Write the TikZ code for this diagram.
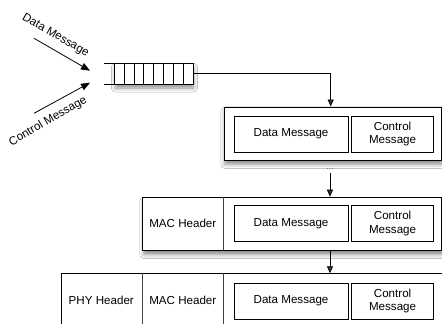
\documentclass[tikz,border=0pt]{standalone}
\usepackage{fontspec}
\setmainfont{Liberation Sans}
\usetikzlibrary{arrows.meta,shadows.blur}
\tikzset{
  lbl/.style={font=\fontsize{11.6}{13.5}\selectfont, align=center, inner sep=0pt},
  shad/.style={blur shadow={shadow xshift=1pt, shadow yshift=-4pt, shadow blur radius=4pt, shadow opacity=45}},
  outerbox/.style={draw=black, line width=0.9pt, fill=white, shad, anchor=north west, inner sep=0pt},
  plainbox/.style={draw=black, line width=0.9pt, fill=white, anchor=north west, inner sep=0pt},
  msgbox/.style={draw=black, line width=0.9pt, anchor=north west, inner sep=0pt, minimum height=36pt, lbl},
  divider/.style={draw=black!75, line width=0.9pt},
  arr/.style={-{Triangle[length=7pt,width=6pt]}, line width=0.8pt},
  inarr/.style={-{Triangle[length=9pt,width=7pt]}, line width=0.8pt},
  qline/.style={draw=black, line width=0.8pt}
}
\begin{document}
\begin{tikzpicture}[x=1pt,y=-1pt]
\useasboundingbox (0,0) rectangle (442,324);
\clip (0,0) rectangle (442,324);
\fill[white] (0,0) rectangle (442,324);

% incoming messages
\coordinate (ds) at (34,38.3);
\coordinate (de) at (90,70.7);
\coordinate (cs) at (34,113.3);
\coordinate (ce) at (90,82.7);
\draw[inarr] (ds) -- (de);
\draw[inarr] (cs) -- (ce);
\node[lbl, rotate=-30] (ldata) at (55.5,35.5) {Data Message};
\node[lbl, rotate=30] (lctrl) at (48,121.5) {Control Message};

% queue
\node[anchor=north west, inner sep=0pt, minimum width=88.7pt, minimum height=20.7pt] (queue) at (104,63.3) {};
\path[fill=white, shad] (114.3,63.3) rectangle (192.7,84);
\draw[qline] (queue.north west) -- (queue.north east) -- (queue.south east) -- (queue.south west);
\foreach \i in {0,...,7} {
  \draw[qline] (114.3+\i*9.8,63.3) -- (114.3+\i*9.8,84);
}

% box 1
\node[outerbox, minimum width=217.5pt, minimum height=53.5pt] (box1) at (223.5,106.5) {};
\node[msgbox, minimum width=114.2pt] (d1) at (233.5,115.7) {Data Message};
\node[msgbox, minimum width=81.7pt] (c1) at (351.3,115.7) {Control\\Message};

% box 2
\node[outerbox, minimum width=299pt, minimum height=53.5pt] (box2) at (142.3,196.7) {};
\draw[divider] (223.3,196.7) -- (223.3,250.2);
\node[lbl] (m2) at (182.8,223.4) {MAC Header};
\node[msgbox, minimum width=114.2pt] (d2) at (233.5,205) {Data Message};
\node[msgbox, minimum width=81.7pt] (c2) at (351.3,205) {Control\\Message};

% box 3
\node[plainbox, minimum width=381pt, minimum height=80pt] (box3) at (60.5,273.3) {};
\draw[divider] (142,273.3) -- (142,353.3);
\draw[divider] (223.3,273.3) -- (223.3,353.3);
\node[lbl] (p3) at (101.3,300.2) {PHY Header};
\node[lbl] (m3) at (182.8,300.2) {MAC Header};
\node[msgbox, minimum width=114.2pt] (d3) at (233.5,282.5) {Data Message};
\node[msgbox, minimum width=81.7pt] (c3) at (351.3,282.5) {Control\\Message};

% connectors
\node[font=\fontsize{8}{9}\selectfont, text=black!70, inner sep=1pt] (dots) at (330,169.5) {...};
\draw[arr] (queue.east) -| ([xshift=-2pt]box1.north);
\draw[arr] ([yshift=-2pt]dots.south) -- (dots.south |- box2.north);
\draw[arr] (box2.south -| dots) -- (box3.north -| dots);
\end{tikzpicture}
\end{document}
